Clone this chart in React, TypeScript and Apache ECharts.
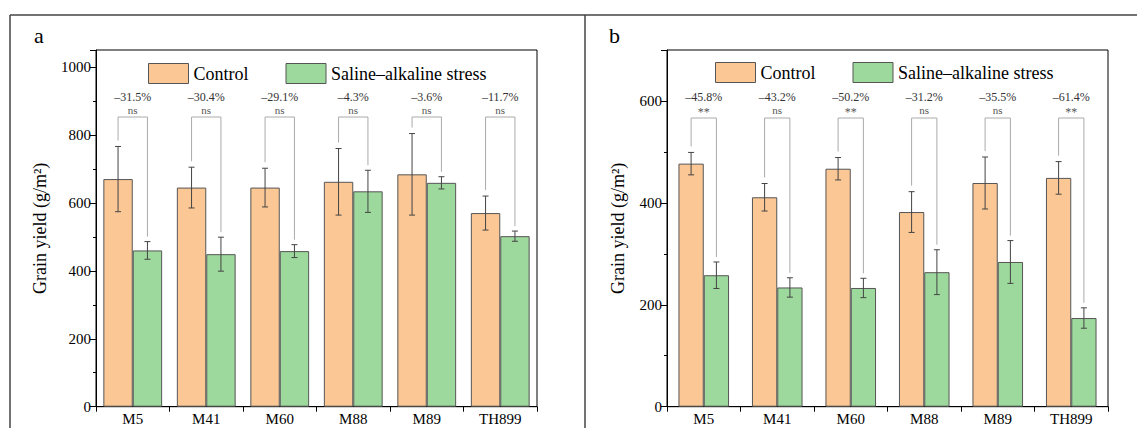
import React, { useEffect, useRef } from "react";
import * as echarts from "echarts";

const categories = ["M5", "M41", "M60", "M88", "M89", "TH899"];

const controlA = [670, 645, 645, 662, 684, 570];
const controlSdA = [96, 60, 57, 98, 120, 50];
const stressA = [460, 449, 458, 634, 659, 502];
const stressSdA = [26, 50, 19, 62, 18, 15];
const pctA = ["–31.5%", "–30.4%", "–29.1%", "–4.3%", "–3.6%", "–11.7%"];
const sigA = ["ns", "ns", "ns", "ns", "ns", "ns"];

const controlB = [477, 411, 467, 382, 439, 449];
const controlSdB = [22, 27, 22, 40, 51, 32];
const stressB = [258, 234, 233, 264, 284, 174];
const stressSdB = [26, 19, 19, 44, 42, 20];
const pctB = ["–45.8%", "–43.2%", "–50.2%", "–31.2%", "–35.5%", "–61.4%"];
const sigB = ["**", "ns", "**", "ns", "ns", "**"];

const yTicksA = [0, 200, 400, 600, 800, 1000];
const yTicksB = [0, 200, 400, 600];

const FONT = "'Liberation Serif', 'Times New Roman', Times, serif";
const ORANGE = "#FBC795";
const GREEN = "#9DD89C";
const BORDER = "#555";

function errorSeries(
  gridIdx: number,
  means: number[],
  sds: number[],
  side: number,
  frac: number
) {
  return {
    type: "custom",
    xAxisIndex: gridIdx,
    yAxisIndex: gridIdx * 2,
    z: 5,
    silent: true,
    data: means.map((m, i) => [i, m, sds[i]]),
    renderItem: (params: any, api: any) => {
      const i = api.value(0);
      const m = api.value(1);
      const sd = api.value(2);
      const band = api.size([1, 0])[0];
      const c = api.coord([i, m]);
      const x = c[0] + (side * band * frac) / 2;
      const yt = api.coord([i, m + sd])[1];
      const yb = api.coord([i, m - sd])[1];
      const st = { stroke: "#444", lineWidth: 1 };
      return {
        type: "group",
        children: [
          { type: "line", shape: { x1: x, y1: yt, x2: x, y2: yb }, style: st },
          { type: "line", shape: { x1: x - 3, y1: yt, x2: x + 3, y2: yt }, style: st },
          { type: "line", shape: { x1: x - 3, y1: yb, x2: x + 3, y2: yb }, style: st },
        ],
      };
    },
  };
}

function bracketSeries(
  gridIdx: number,
  ctrl: number[],
  ctrlSd: number[],
  str: number[],
  strSd: number[],
  pct: string[],
  sig: string[],
  frac: number,
  topOff: number
) {
  return {
    type: "custom",
    xAxisIndex: gridIdx,
    yAxisIndex: gridIdx * 2,
    z: 6,
    silent: true,
    data: ctrl.map((c, i) => [i, c + ctrlSd[i], str[i] + strSd[i]]),
    renderItem: (params: any, api: any) => {
      const i = api.value(0);
      const band = api.size([1, 0])[0];
      const cx = api.coord([i, 0])[0];
      const xl = cx - (band * frac) / 2;
      const xr = cx + (band * frac) / 2;
      const yl = api.coord([i, api.value(1)])[1] - 6;
      const yr = api.coord([i, api.value(2)])[1] - 5;
      const gy = params.coordSys.y;
      const ytop = gy + topOff;
      const s = sig[params.dataIndex];
      return {
        type: "group",
        children: [
          {
            type: "polyline",
            shape: { points: [[xl, yl], [xl, ytop], [xr, ytop], [xr, yr]] },
            style: { stroke: "#aaa", lineWidth: 1, fill: "none" },
          },
          {
            type: "text",
            x: cx,
            y: gy + 47,
            style: {
              text: pct[params.dataIndex],
              fontFamily: FONT,
              fontSize: 12,
              fill: "#333",
              align: "center",
              verticalAlign: "middle",
            },
          },
          {
            type: "text",
            x: cx,
            y: gy + (s === "**" ? 62 : 60),
            style: {
              text: s,
              fontFamily: FONT,
              fontSize: s === "**" ? 12 : 11,
              fill: "#555",
              align: "center",
              verticalAlign: "middle",
            },
          },
        ],
      };
    },
  };
}

function xAxisCfg(gridIndex: number) {
  return {
    type: "category",
    gridIndex,
    data: categories,
    axisLine: { lineStyle: { color: "#000", width: 1 } },
    axisTick: { show: true, length: 5, inside: false, lineStyle: { color: "#000" } },
    axisLabel: { color: "#000", fontFamily: FONT, fontSize: 15, margin: 5 },
  };
}

function yAxesCfg(gridIndex: number, max: number, ticks: number[], nameGap: number) {
  const top = ticks[ticks.length - 1];
  return [
    {
      type: "value",
      gridIndex,
      min: 0,
      max,
      interval: 200,
      name: "Grain yield (g/m²)",
      nameLocation: "middle",
      nameGap,
      nameRotate: 90,
      nameTextStyle: { fontFamily: FONT, fontSize: 18, color: "#000" },
      axisLine: { show: true, lineStyle: { color: "#000", width: 1 } },
      axisTick: { show: true, length: 6, inside: false, lineStyle: { color: "#000" } },
      axisLabel: {
        color: "#000",
        fontFamily: FONT,
        fontSize: 15,
        margin: 5,
        formatter: (v: number) => (ticks.indexOf(v) >= 0 && v <= top ? String(v) : ""),
      },
      splitLine: { show: false },
    },
    {
      type: "value",
      gridIndex,
      min: 0,
      max,
      interval: 100,
      position: "left",
      axisLine: { show: false },
      axisTick: { show: true, length: 3, inside: false, lineStyle: { color: "#000" } },
      axisLabel: { show: false },
      splitLine: { show: false },
    },
  ];
}

function legendCfg(left: number, top: number) {
  return {
    data: ["Control", "Saline–alkaline stress"],
    left,
    top,
    icon: "rect",
    itemWidth: 40,
    itemHeight: 20,
    itemGap: 37,
    selectedMode: false,
    textStyle: { fontFamily: FONT, fontSize: 18, color: "#000" },
    itemStyle: { borderColor: BORDER, borderWidth: 1 },
  };
}

function barSeries(name: string, gridIdx: number, data: number[], color: string, width: string) {
  return {
    name,
    type: "bar",
    xAxisIndex: gridIdx,
    yAxisIndex: gridIdx * 2,
    data,
    barWidth: width,
    barGap: "0%",
    itemStyle: { color, borderColor: BORDER, borderWidth: 1 },
  };
}

export default function App() {
  const ref = useRef<HTMLDivElement>(null);
  useEffect(() => {
    document.body.style.margin = "0";
    if (!ref.current) return;
    const chart = echarts.init(ref.current, null, { renderer: "svg" });
    const fracA = 0.4;
    const fracB = 0.344;
    chart.setOption({
      animation: false,
      backgroundColor: "#fff",
      textStyle: { fontFamily: FONT },
      grid: [
        { left: 96, top: 50, width: 441, height: 356.7, show: true, borderColor: "#000", borderWidth: 1, backgroundColor: "transparent" },
        { left: 667, top: 50, width: 441, height: 356.7, show: true, borderColor: "#000", borderWidth: 1, backgroundColor: "transparent" },
      ],
      legend: [legendCfg(143, 58), legendCfg(710, 57)],
      xAxis: [xAxisCfg(0), xAxisCfg(1)],
      yAxis: [...yAxesCfg(0, 1050, yTicksA, 47), ...yAxesCfg(1, 700, yTicksB, 40)],
      series: [
        barSeries("Control", 0, controlA, ORANGE, "40%"),
        barSeries("Saline–alkaline stress", 0, stressA, GREEN, "40%"),
        barSeries("Control", 1, controlB, ORANGE, "34.4%"),
        barSeries("Saline–alkaline stress", 1, stressB, GREEN, "34.4%"),
        errorSeries(0, controlA, controlSdA, -1, fracA),
        errorSeries(0, stressA, stressSdA, 1, fracA),
        errorSeries(1, controlB, controlSdB, -1, fracB),
        errorSeries(1, stressB, stressSdB, 1, fracB),
        bracketSeries(0, controlA, controlSdA, stressA, stressSdA, pctA, sigA, fracA, 67),
        bracketSeries(1, controlB, controlSdB, stressB, stressSdB, pctB, sigB, fracB, 68),
      ],
      graphic: [
        { type: "line", shape: { x1: 10, y1: 15, x2: 1137, y2: 15 }, style: { stroke: "#444", lineWidth: 1.5 } },
        { type: "line", shape: { x1: 10, y1: 15, x2: 10, y2: 428 }, style: { stroke: "#444", lineWidth: 1.5 } },
        { type: "line", shape: { x1: 585, y1: 15, x2: 585, y2: 428 }, style: { stroke: "#444", lineWidth: 1.5 } },
        { type: "text", left: 34, top: 24, style: { text: "a", fontFamily: FONT, fontSize: 22, fill: "#000" } },
        { type: "text", left: 609, top: 24, style: { text: "b", fontFamily: FONT, fontSize: 22, fill: "#000" } },
      ],
    });
    return () => chart.dispose();
  }, []);
  return <div ref={ref} style={{ width: 1137, height: 428 }} />;
}
